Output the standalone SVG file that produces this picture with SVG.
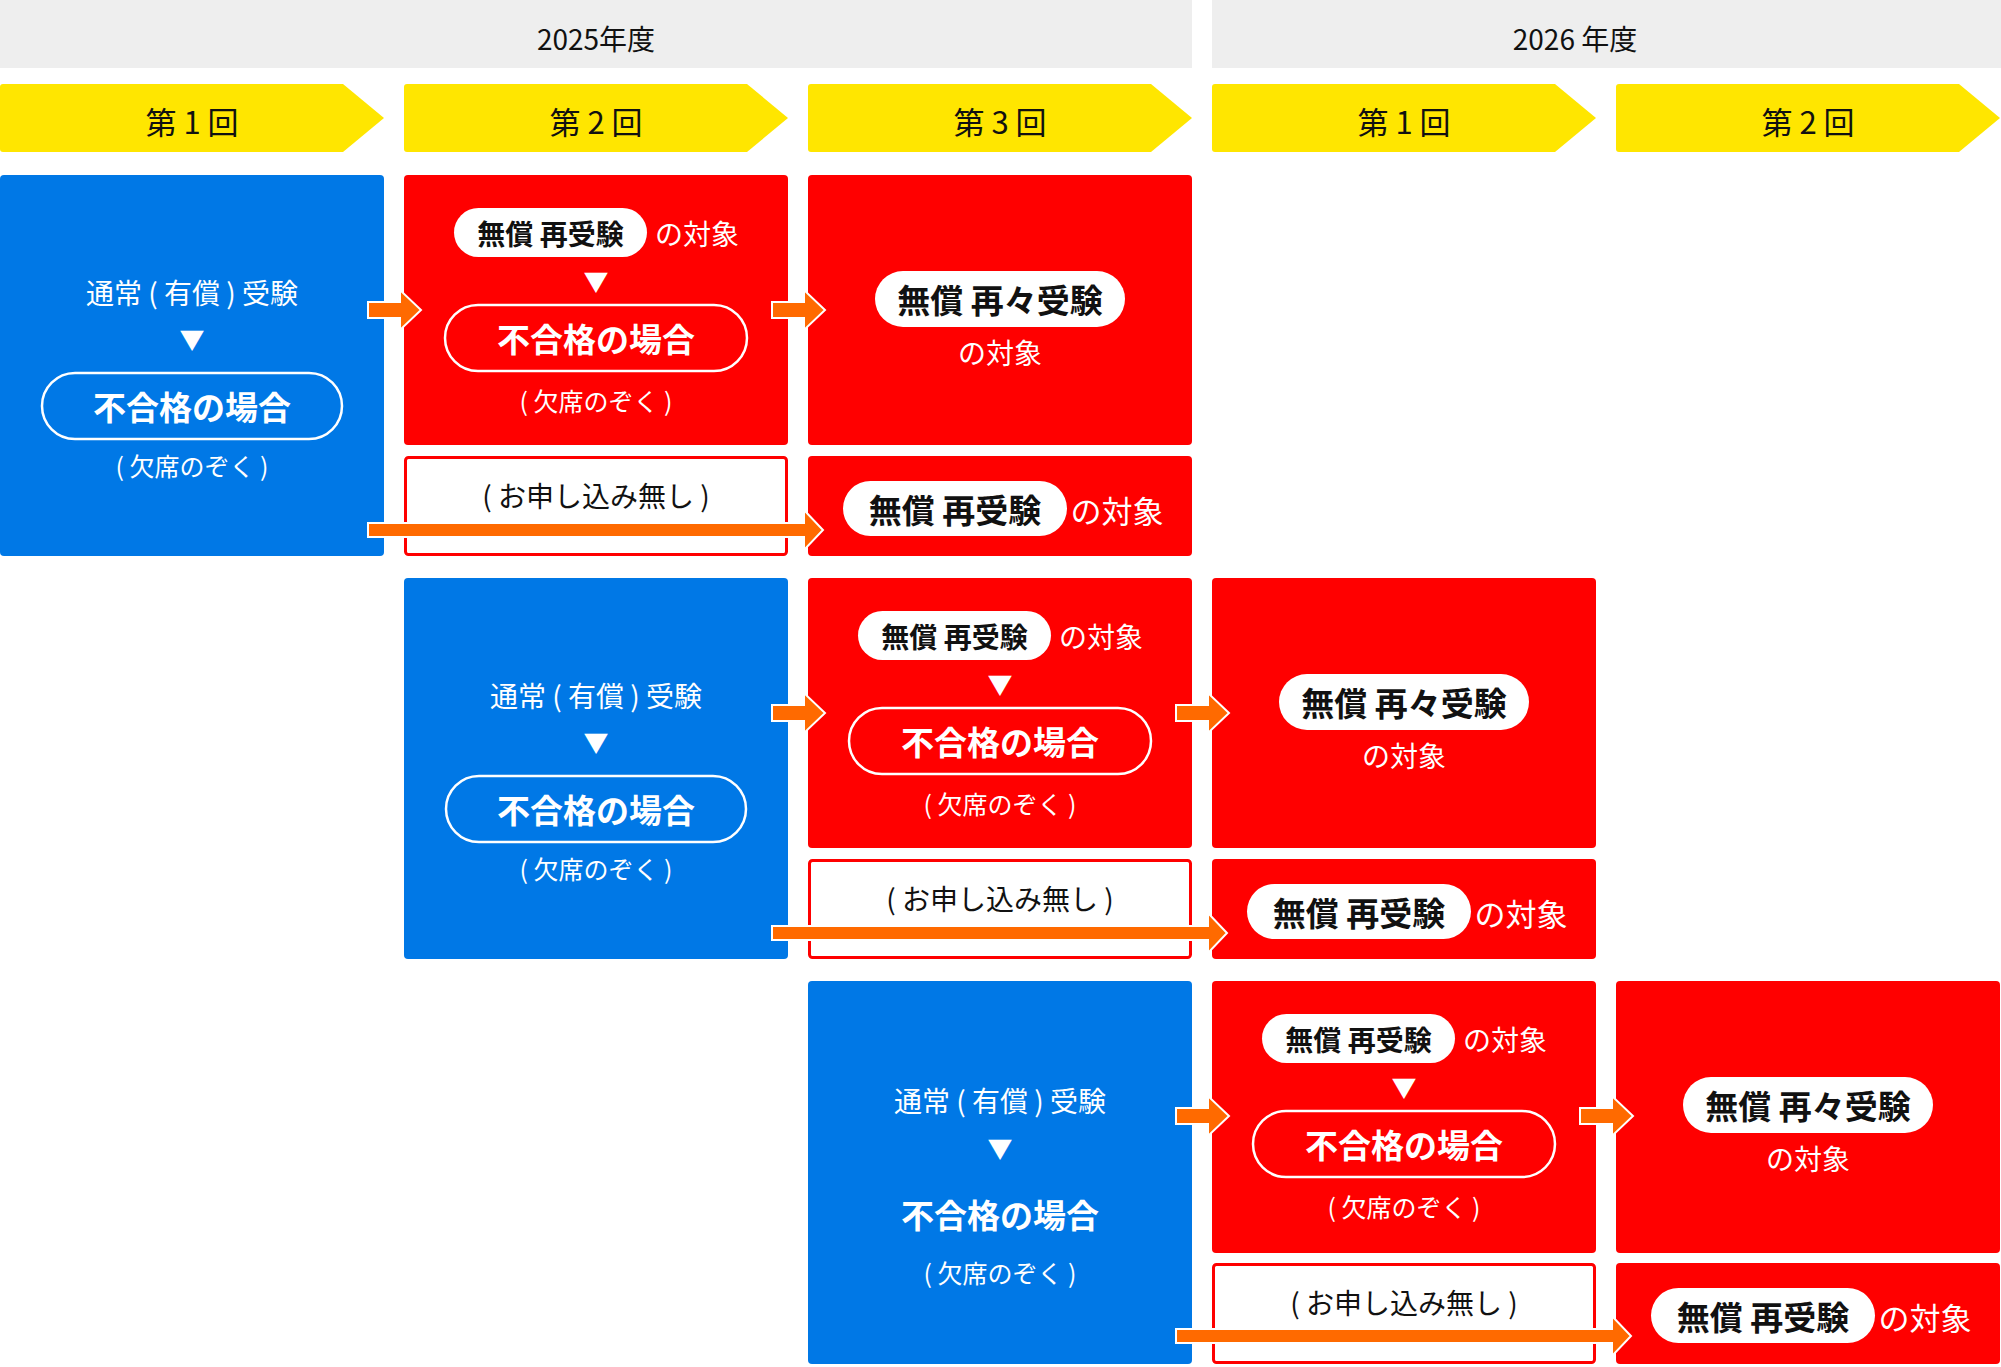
<svg xmlns="http://www.w3.org/2000/svg" width="2001" height="1367" viewBox="0 0 2001 1367">
<style>
text{font-family:"Noto Sans CJK JP","Noto Sans",sans-serif;text-anchor:middle;dominant-baseline:central}
.w{fill:#fff}.k{fill:#111}
.b{font-weight:700}
.s22{font-size:25px}.s26{font-size:28px}.s28{font-size:31px}.s33{font-size:33px}
.blue{fill:#0078e6}.red{fill:#ff0000}
.arr{fill:#ff6a00;stroke:#fff;stroke-width:2}
</style>
<g id="headers">
<rect x="0" y="0" width="1192" height="68" fill="#eeeeee"/>
<rect x="1212" y="0" width="789" height="68" fill="#eeeeee"/>
<text x="596" y="38" class="s26 k">2025年度</text>
<text x="1575" y="38" class="s26 k">2026 年度</text>
</g>
<g id="rounds">
<g transform="translate(0,84)"><path d="M0 3Q0 0 3 0H343L384 34L343 68H3Q0 68 0 65Z" fill="#ffe600"/><text x="192" y="36" class="s28 k">第 1 回</text></g>
<g transform="translate(404,84)"><path d="M0 3Q0 0 3 0H343L384 34L343 68H3Q0 68 0 65Z" fill="#ffe600"/><text x="192" y="36" class="s28 k">第 2 回</text></g>
<g transform="translate(808,84)"><path d="M0 3Q0 0 3 0H343L384 34L343 68H3Q0 68 0 65Z" fill="#ffe600"/><text x="192" y="36" class="s28 k">第 3 回</text></g>
<g transform="translate(1212,84)"><path d="M0 3Q0 0 3 0H343L384 34L343 68H3Q0 68 0 65Z" fill="#ffe600"/><text x="192" y="36" class="s28 k">第 1 回</text></g>
<g transform="translate(1616,84)"><path d="M0 3Q0 0 3 0H343L384 34L343 68H3Q0 68 0 65Z" fill="#ffe600"/><text x="192" y="36" class="s28 k">第 2 回</text></g>
</g>

<!-- Row 1 -->
<g id="r1-normal" transform="translate(0,175)">
<rect width="384" height="381" rx="4" class="blue"/>
<text x="192" y="117" class="s26 w">通常 ( 有償 ) 受験</text>
<text x="192" y="163" class="s22 w">▼</text>
<rect x="42" y="198" width="300" height="66" rx="33" fill="none" stroke="#fff" stroke-width="2.5"/>
<text x="192" y="231" class="s33 b w">不合格の場合</text>
<text x="192" y="290" class="s22 w">( 欠席のぞく )</text>
</g>
<g id="r1-retry" transform="translate(404,175)">
<rect width="384" height="270" rx="4" class="red"/>
<rect x="50" y="33" width="193" height="49" rx="24.5" fill="#fff"/>
<text x="146.5" y="57.5" class="s26 b k">無償 再受験</text>
<text x="293" y="57.5" class="s26 w">の対象</text>
<text x="192" y="105" class="s22 w">▼</text>
<rect x="41" y="130" width="302" height="66" rx="33" fill="none" stroke="#fff" stroke-width="2.5"/>
<text x="192" y="163" class="s33 b w">不合格の場合</text>
<text x="192" y="225" class="s22 w">( 欠席のぞく )</text>
</g>
<g id="r1-noapply" transform="translate(404,175)">
<rect x="1.5" y="282.5" width="381" height="97" rx="3" fill="#fff" stroke="#ff0000" stroke-width="3"/>
<text x="192" y="320" class="s26 k">( お申し込み無し )</text>
</g>
<g id="r1-reretry" transform="translate(808,175)">
<rect width="384" height="270" rx="4" class="red"/>
<rect x="67" y="96" width="250" height="56" rx="28" fill="#fff"/>
<text x="192" y="124" class="s33 b k">無償 再々受験</text>
<text x="192" y="177" class="s26 w">の対象</text>
</g>
<g id="r1-free" transform="translate(808,175)">
<rect y="281" width="384" height="100" rx="4" class="red"/>
<rect x="35" y="306" width="224" height="55" rx="27.5" fill="#fff"/>
<text x="147" y="333.5" class="s33 b k">無償 再受験</text>
<text x="309" y="334" class="s28 w">の対象</text>
</g>

<!-- Row 2 -->
<g id="r2-normal" transform="translate(404,578)">
<rect width="384" height="381" rx="4" class="blue"/>
<text x="192" y="117" class="s26 w">通常 ( 有償 ) 受験</text>
<text x="192" y="163" class="s22 w">▼</text>
<rect x="42" y="198" width="300" height="66" rx="33" fill="none" stroke="#fff" stroke-width="2.5"/>
<text x="192" y="231" class="s33 b w">不合格の場合</text>
<text x="192" y="290" class="s22 w">( 欠席のぞく )</text>
</g>
<g id="r2-retry" transform="translate(808,578)">
<rect width="384" height="270" rx="4" class="red"/>
<rect x="50" y="33" width="193" height="49" rx="24.5" fill="#fff"/>
<text x="146.5" y="57.5" class="s26 b k">無償 再受験</text>
<text x="293" y="57.5" class="s26 w">の対象</text>
<text x="192" y="105" class="s22 w">▼</text>
<rect x="41" y="130" width="302" height="66" rx="33" fill="none" stroke="#fff" stroke-width="2.5"/>
<text x="192" y="163" class="s33 b w">不合格の場合</text>
<text x="192" y="225" class="s22 w">( 欠席のぞく )</text>
</g>
<g id="r2-noapply" transform="translate(808,578)">
<rect x="1.5" y="282.5" width="381" height="97" rx="3" fill="#fff" stroke="#ff0000" stroke-width="3"/>
<text x="192" y="320" class="s26 k">( お申し込み無し )</text>
</g>
<g id="r2-reretry" transform="translate(1212,578)">
<rect width="384" height="270" rx="4" class="red"/>
<rect x="67" y="96" width="250" height="56" rx="28" fill="#fff"/>
<text x="192" y="124" class="s33 b k">無償 再々受験</text>
<text x="192" y="177" class="s26 w">の対象</text>
</g>
<g id="r2-free" transform="translate(1212,578)">
<rect y="281" width="384" height="100" rx="4" class="red"/>
<rect x="35" y="306" width="224" height="55" rx="27.5" fill="#fff"/>
<text x="147" y="333.5" class="s33 b k">無償 再受験</text>
<text x="309" y="334" class="s28 w">の対象</text>
</g>

<!-- Row 3 -->
<g id="r3-normal" transform="translate(808,981)">
<rect width="384" height="383" rx="4" class="blue"/>
<text x="192" y="119" class="s26 w">通常 ( 有償 ) 受験</text>
<text x="192" y="166" class="s22 w">▼</text>
<text x="192" y="233" class="s33 b w">不合格の場合</text>
<text x="192" y="291" class="s22 w">( 欠席のぞく )</text>
</g>
<g id="r3-retry" transform="translate(1212,981)">
<rect width="384" height="272" rx="4" class="red"/>
<rect x="50" y="33" width="193" height="49" rx="24.5" fill="#fff"/>
<text x="146.5" y="57.5" class="s26 b k">無償 再受験</text>
<text x="293" y="57.5" class="s26 w">の対象</text>
<text x="192" y="105" class="s22 w">▼</text>
<rect x="41" y="130" width="302" height="66" rx="33" fill="none" stroke="#fff" stroke-width="2.5"/>
<text x="192" y="163" class="s33 b w">不合格の場合</text>
<text x="192" y="225" class="s22 w">( 欠席のぞく )</text>
</g>
<g id="r3-noapply" transform="translate(1212,981)">
<rect x="1.5" y="283.5" width="381" height="98" rx="3" fill="#fff" stroke="#ff0000" stroke-width="3"/>
<text x="192" y="321" class="s26 k">( お申し込み無し )</text>
</g>
<g id="r3-reretry" transform="translate(1616,981)">
<rect width="384" height="272" rx="4" class="red"/>
<rect x="67" y="96" width="250" height="56" rx="28" fill="#fff"/>
<text x="192" y="124" class="s33 b k">無償 再々受験</text>
<text x="192" y="177" class="s26 w">の対象</text>
</g>
<g id="r3-free" transform="translate(1616,981)">
<rect y="282" width="384" height="101" rx="4" class="red"/>
<rect x="35" y="307" width="224" height="55" rx="27.5" fill="#fff"/>
<text x="147" y="334.5" class="s33 b k">無償 再受験</text>
<text x="309" y="335" class="s28 w">の対象</text>
</g>

<g id="connectors">
<!-- short arrows: translate to (targetX, y) -->
<path transform="translate(404,310)" class="arr" d="M-36 -8H-4V-20L17 0L-4 20V8H-36Z"/>
<path transform="translate(808,310)" class="arr" d="M-36 -8H-4V-20L17 0L-4 20V8H-36Z"/>
<path transform="translate(808,713)" class="arr" d="M-36 -8H-4V-20L17 0L-4 20V8H-36Z"/>
<path transform="translate(1212,713)" class="arr" d="M-36 -8H-4V-20L17 0L-4 20V8H-36Z"/>
<path transform="translate(1212,1116)" class="arr" d="M-36 -8H-4V-20L17 0L-4 20V8H-36Z"/>
<path transform="translate(1616,1116)" class="arr" d="M-36 -8H-4V-20L17 0L-4 20V8H-36Z"/>
<!-- long arrows -->
<path transform="translate(808,530)" class="arr" d="M-440 -7H-4V-20L15 0L-4 20V7H-440Z"/>
<path transform="translate(1212,933)" class="arr" d="M-440 -7H-4V-20L15 0L-4 20V7H-440Z"/>
<path transform="translate(1616,1336)" class="arr" d="M-440 -7H-4V-20L15 0L-4 20V7H-440Z"/>
</g>
</svg>
